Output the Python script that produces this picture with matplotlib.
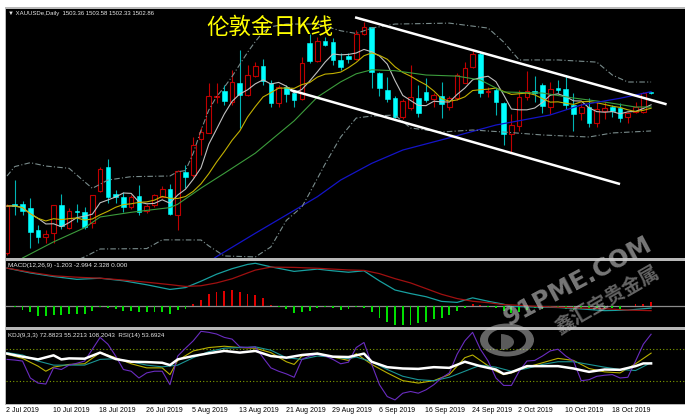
import matplotlib
matplotlib.use("Agg")
import matplotlib.pyplot as plt
from matplotlib.patches import Rectangle, Wedge
from matplotlib.transforms import blended_transform_factory
import numpy as np
import pandas as pd

W, H = 685, 418

# ---------------- data ----------------
dates = pd.bdate_range("2019-07-02", "2019-10-25")

opens = [1383.7, 1420.2, 1420.2, 1417.2, 1400.8, 1395.6, 1398.6, 1419.4, 1402.3, 1415.0,
         1414.2, 1406.0, 1429.8, 1447.7, 1427.6, 1425.4, 1417.9, 1426.1, 1415.0, 1419.4,
         1425.4, 1431.3, 1412.0, 1444.0, 1441.7, 1468.5, 1473.0, 1499.7, 1504.2, 1496.0,
         1510.1, 1501.2, 1515.3, 1522.8, 1510.1, 1495.3, 1507.2, 1502.7, 1498.2, 1539.9,
         1526.5, 1541.4, 1540.6, 1527.3, 1530.2, 1528.0, 1546.6, 1551.8, 1517.6, 1504.9,
         1499.0, 1484.9, 1491.6, 1499.0, 1503.5, 1498.2, 1500.5, 1492.3, 1499.0, 1510.1,
         1522.0, 1531.7, 1503.5, 1504.9, 1495.3, 1472.2, 1478.2, 1499.7, 1504.2, 1508.6,
         1492.3, 1506.4, 1505.7, 1493.8, 1487.8, 1492.3, 1480.4, 1489.3, 1492.3, 1491.6,
         1484.9, 1488.6, 1488.6, 1503.36]
highs = [1420.2, 1438.0, 1422.4, 1424.6, 1404.6, 1400.8, 1419.4, 1427.6, 1417.2, 1420.2,
         1417.9, 1426.9, 1447.7, 1453.6, 1430.6, 1429.1, 1426.9, 1434.3, 1420.2, 1427.6,
         1433.6, 1435.0, 1445.5, 1449.2, 1470.0, 1477.4, 1510.1, 1510.1, 1508.6, 1519.8,
         1534.7, 1523.5, 1525.7, 1528.0, 1512.4, 1508.6, 1508.6, 1504.9, 1529.5, 1546.6,
         1544.3, 1544.3, 1543.6, 1532.5, 1532.5, 1549.5, 1555.5, 1551.8, 1518.3, 1514.6,
         1500.5, 1498.2, 1523.5, 1508.6, 1513.8, 1502.7, 1510.9, 1500.5, 1517.6, 1525.7,
         1534.7, 1533.2, 1507.2, 1506.4, 1496.0, 1487.1, 1504.9, 1519.1, 1515.3, 1510.1,
         1510.9, 1512.4, 1516.1, 1502.7, 1495.3, 1499.0, 1496.0, 1496.0, 1493.8, 1495.3,
         1488.6, 1496.0, 1503.5, 1503.58]
lows = [1382.3, 1412.0, 1412.0, 1387.5, 1391.2, 1391.2, 1391.2, 1401.6, 1401.6, 1406.8,
        1401.6, 1402.3, 1429.1, 1420.9, 1420.9, 1414.2, 1416.5, 1412.0, 1413.5, 1417.9,
        1424.6, 1412.0, 1400.8, 1432.1, 1440.2, 1456.6, 1473.0, 1495.3, 1493.8, 1493.8,
        1476.7, 1500.5, 1514.6, 1508.6, 1492.3, 1492.3, 1496.0, 1492.3, 1497.5, 1525.0,
        1525.7, 1537.6, 1523.5, 1519.8, 1525.0, 1527.3, 1545.8, 1506.4, 1500.5, 1496.0,
        1484.1, 1483.4, 1490.1, 1484.9, 1496.0, 1492.3, 1484.1, 1490.1, 1497.5, 1510.1,
        1521.3, 1499.7, 1499.7, 1486.3, 1464.0, 1458.8, 1474.5, 1497.5, 1496.0, 1487.8,
        1487.1, 1502.7, 1490.8, 1474.5, 1482.6, 1477.4, 1477.4, 1483.4, 1484.9, 1481.1,
        1480.4, 1487.8, 1487.8, 1502.33]
closes = [1418.7, 1418.7, 1415.0, 1399.4, 1395.6, 1397.9, 1419.4, 1403.8, 1415.0, 1414.2,
          1403.1, 1426.9, 1446.2, 1425.4, 1425.4, 1417.9, 1425.4, 1414.2, 1418.7, 1426.9,
          1431.3, 1412.7, 1444.7, 1440.2, 1464.0, 1473.7, 1500.5, 1500.5, 1496.8, 1510.9,
          1501.2, 1516.1, 1522.8, 1511.6, 1495.3, 1507.2, 1502.0, 1497.5, 1525.0, 1526.5,
          1541.4, 1538.4, 1527.3, 1522.0, 1528.0, 1546.6, 1551.8, 1518.3, 1506.4, 1498.2,
          1484.9, 1496.8, 1499.7, 1487.8, 1497.5, 1501.2, 1494.5, 1499.0, 1516.1, 1521.3,
          1531.7, 1502.7, 1504.2, 1496.0, 1472.2, 1478.9, 1499.7, 1504.2, 1502.7, 1493.0,
          1505.7, 1504.9, 1493.8, 1487.1, 1492.3, 1480.4, 1490.8, 1491.6, 1489.3, 1484.1,
          1487.8, 1492.3, 1502.7, 1502.86]

# indicator lines (bar index -> value)
ma20_idx = [2, 6, 10, 12, 16, 21, 22, 25, 28, 32, 37, 40, 43, 45, 47, 50, 54, 58, 61, 64, 69, 73, 77, 81, 83]
ma20_val = [1380, 1392, 1402.5, 1410.5, 1414, 1417.5, 1420, 1432, 1443, 1458, 1482, 1499.7, 1511,
            1517, 1520, 1519.3, 1516.1, 1515.3, 1512.4, 1503.5, 1502.7, 1499, 1496, 1492.3, 1492.3]
ma60_idx = [26, 27, 32, 36, 40, 43, 47, 51, 57, 63, 70, 74, 79, 83]
ma60_val = [1377, 1381, 1398.4, 1412, 1425.6, 1438, 1450.4, 1460.3, 1469.4, 1478.9, 1486.4, 1493.8,
            1498.8, 1503.7]
bb_up_idx = [0, 1, 3, 5, 8, 10, 11, 13, 16, 21, 22, 23, 24, 25, 26, 27, 28, 29, 30, 31, 32, 33, 34,
             36, 40, 43, 45, 47, 50, 57, 62, 64, 66, 71, 76, 78, 80, 83]
bb_up_val = [1441, 1448, 1450.9, 1448.4, 1446.7, 1436.7, 1431.8, 1438, 1440.5, 1441, 1444.2, 1445,
             1458, 1475, 1490, 1500, 1507, 1515, 1524, 1533, 1541, 1548, 1552, 1554, 1554, 1549,
             1547, 1551, 1554, 1554.7, 1551, 1540.6, 1527.3, 1527.3, 1525.7, 1516.1, 1510.9, 1510.9]
bb_lo_idx = [8, 10, 12, 18, 20, 25, 26, 28, 32, 34, 36, 38, 39, 41, 43, 45, 47, 50, 52, 56, 60, 64,
             69, 75, 78, 83]
bb_lo_val = [1376, 1380.8, 1386.7, 1387, 1393.5, 1393.4, 1389, 1381.5, 1380.8, 1388.2, 1408, 1418,
             1428.4, 1450, 1470, 1484.1, 1485.6, 1486.3, 1476.7, 1473.7, 1475.2, 1473.7, 1471.5,
             1470, 1473, 1474.5]

# hand-drawn channel lines: (bar index, price)
chan_upper = [(44.85, 1559.0), (85.0, 1494.3)]
chan_lower = [(36.5, 1505.0), (79.0, 1435.0)]

# MACD (12,26,9)
macd_idx = [0, 3, 6, 9, 12, 15, 18, 21, 23, 25, 27, 29, 31, 32, 34, 37, 40, 42, 44, 46, 48, 50, 52,
            54, 56, 58, 60, 62, 64, 65, 68, 71, 74, 77, 80, 83]
dif_val = [26.9, 23.5, 21.0, 19.0, 19.8, 18.0, 15.2, 11.9, 13.2, 17.7, 22.6, 26.5, 29.5, 30.3, 27.8,
           24.6, 26.2, 25.0, 24.0, 25.0, 17.9, 11.5, 9.0, 6.8, 3.5, 2.8, 6.0, 3.6, 1.5, 0.0, -0.4,
           -0.8, -1.8, -3.0, -2.6, -1.2]
dea_val = [26.9, 24.0, 21.5, 20.5, 19.8, 18.5, 17.0, 15.3, 14.0, 14.5, 16.5, 19.4, 23.5, 25.5, 27.6,
           27.4, 26.8, 26.2, 25.6, 25.3, 23.0, 19.5, 16.5, 12.5, 8.5, 5.5, 3.6, 2.6, 1.2, 1.0, 0.1,
           -0.6, -1.2, -1.6, -2.6, -3.0]
macd_hist = [0, -0.4, -2.4, -4.1, -7.1, -7.1, -5.9, -6.4, -5.5, -5.5, -5.5, -3.6, -0.7, -1.2, -1.6,
             -3.1, -3.1, -4.1, -4.1, -4.1, -4.1, -5.5, -2.4, -1.6, 1.9, 4.8, 8.4, 10.2, 10.7, 11.4,
             9.8, 8.8, 7.9, 5.9, 1.2, -0.3, -1.6, -4.8, -4.1, -3.1, -1.2, -0.4, -1.2, -2.4, -1.8,
             -0.7, -1.2, -4.1, -8.4, -10.7, -13.1, -13.1, -13.1, -11.9, -10.7, -8.8, -8.4, -6.4,
             -3.6, -1.2, 1.9, 0.7, -0.7, -1.2, -3.6, -4.8, -4.1, -2.4, -1.2, -1.6, -0.4, -1.2, -1.6,
             -2.4, -1.6, -2.4, -1.6, -1.6, -1.2, -1.6, 0.4, 1.6, 1.6, 2.9]

# KDJ (9,3,3) and RSI(14)
k_idx = [0, 2, 4, 5, 6, 8, 10, 12, 14, 16, 18, 20, 21, 22, 24, 26, 28, 30, 32, 34, 36, 37, 38, 40,
         42, 44, 45, 47, 49, 51, 53, 55, 57, 59, 60, 61, 63, 64, 65, 67, 69, 71, 73, 75, 77, 79,
         81, 83]
k_val = [70.7, 63.1, 48.6, 39.1, 46.7, 51.8, 53.0, 73.9, 64.4, 53.0, 45.4, 45.4, 32.8, 59.3, 77.0,
         83.3, 85.8, 83.3, 82.1, 73.9, 56.8, 51.8, 67.5, 72.6, 65.6, 59.3, 72.0, 51.8, 36.0, 21.5,
         17.0, 21.5, 32.8, 64.4, 69.4, 59.3, 39.1, 32.8, 36.0, 46.7, 54.9, 63.1, 59.3, 44.2, 37.9,
         36.0, 53.0, 72.9]
d_idx = [0, 2, 4, 6, 8, 10, 12, 14, 16, 18, 20, 22, 24, 26, 28, 30, 32, 34, 36, 38, 40, 42, 44, 45,
         47, 49, 51, 53, 55, 57, 59, 61, 63, 65, 67, 69, 71, 73, 75, 77, 79, 81, 83]
d_val = [73.9, 69.4, 58.1, 50.5, 50.5, 50.5, 61.2, 62.5, 56.8, 50.5, 47.3, 50.5, 64.4, 75.7, 82.1,
         83.3, 84.6, 78.3, 64.4, 61.2, 67.5, 65.6, 62.5, 65.6, 56.8, 42.3, 29.7, 23.3, 21.4, 27.8,
         39.1, 50.5, 46.7, 39.1, 44.2, 51.8, 56.8, 56.8, 51.8, 46.7, 42.3, 40.4, 55.2]
j_val = [61.2, 60.0, 58.1, 26.5, 17.0, 15.2, 45.4, 42.3, 50.5, 54.0, 58.1, 80.2, 102.3, 89.6, 67.5,
         42.3, 39.1, 26.5, 36.0, 39.1, 39.1, 13.9, 67.5, 82.1, 95.9, 113.6, 111.7, 108.6, 102.3,
         99.1, 84.6, 83.3, 84.6, 64.4, 45.4, 39.1, 34.1, 27.8, 61.2, 67.5, 70.7, 67.5, 61.2, 53.0,
         56.0, 83.3, 92.8, 51.8, 13.9, -8.2, -14.5, -1.9, 1.3, -1.9, 4.4, 13.9, 26.5, 36.0, 70.7,
         95.9, 111.7, 80.2, 58.1, 26.5, 12.6, 12.6, 39.1, 58.1, 59.3, 67.5, 77.0, 80.2, 67.5, 58.1,
         21.4, 23.3, 29.6, 31.6, 32.8, 26.5, 27.8, 58.1, 89.6, 108.2]
rsi_idx = [0, 2, 4, 6, 7, 8, 10, 12, 14, 16, 18, 20, 21, 22, 24, 26, 28, 30, 32, 34, 36, 38, 40, 42,
           44, 46, 47, 49, 51, 53, 55, 57, 59, 61, 63, 64, 65, 67, 69, 71, 73, 74, 75, 77, 79, 81,
           82, 83]
rsi_val = [72.0, 66.3, 61.2, 68.8, 61.2, 63.1, 62.5, 73.9, 61.9, 56.8, 56.2, 54.9, 50.5, 61.2, 67.5,
           72.6, 77.0, 73.9, 77.0, 67.5, 64.4, 69.4, 72.0, 66.3, 65.6, 72.0, 56.8, 46.7, 44.2, 43.5,
           46.7, 45.4, 56.8, 48.6, 42.3, 34.1, 37.3, 48.6, 48.6, 48.6, 44.2, 41.0, 37.9, 42.3, 41.7,
           48.6, 53.7, 53.69]
kdj_levels = [80, 20]

tick_idx = [0, 6, 12, 18, 24, 30, 36, 42, 48, 54, 60, 66, 72, 78]
tick_labels = ["2 Jul 2019", "10 Jul 2019", "18 Jul 2019", "26 Jul 2019", "5 Aug 2019",
               "13 Aug 2019", "21 Aug 2019", "29 Aug 2019", "6 Sep 2019", "16 Sep 2019",
               "24 Sep 2019", "2 Oct 2019", "10 Oct 2019", "18 Oct 2019"]

chart_title = "伦敦金日K线"
symbol_label = "\u25bc XAUUSDe,Daily  1503.36 1503.58 1502.33 1502.86"
macd_label = "MACD(12,26,9) -1.203 -2.994 2.328 0.000"
kdj_label = "KDJ(9,3,3) 72.8823 55.2213 108.2043  RSI(14) 53.6924"
wm_latin = "91PME.COM"
wm_cjk = "鑫汇宝贵金属"

# ---------------- figure ----------------
fig = plt.figure(figsize=(W / 100, H / 100), dpi=100, facecolor="white")


def box(x0, y0, x1, y1):
    return [x0 / W, 1 - y1 / H, (x1 - x0) / W, (y1 - y0) / H]


# frame / separators
fig.patches.append(Rectangle((5 / W, 1 - 405 / H), 680 / W, 398 / H, transform=fig.transFigure,
                             facecolor="#b8b8b8", edgecolor="none", zorder=-10))

ax = fig.add_axes(box(6, 9, 685, 258))
axm = fig.add_axes(box(6, 261, 685, 327))
axk = fig.add_axes(box(6, 330, 685, 404))
XL = (-0.13, 87.37)
for a in (ax, axm, axk):
    a.set_facecolor("black")
    a.set_xlim(*XL)
    a.set_xticks([])
    a.set_yticks([])
    for s in a.spines.values():
        s.set_visible(False)
ax.set_ylim(1380.0, 1565.2)
axm.set_ylim(-14.5, 31.9)
axk.set_ylim(-22.1, 116.1)

x = np.arange(len(dates))
o, h, l, c = (np.array(v) for v in (opens, highs, lows, closes))
UP, DN, DNW = "#c00000", "#00ffff", "#00b4b4"
bw = 0.6
for i in x:
    isup = c[i] > o[i]
    ax.plot([i, i], [l[i], h[i]], color=UP if isup else DNW, lw=0.8, zorder=3,
            solid_capstyle="butt")
    bot = min(o[i], c[i])
    ht = max(abs(c[i] - o[i]), 0.5)
    if isup:
        ax.add_patch(Rectangle((i - bw / 2, bot), bw, ht, facecolor="black", edgecolor=UP,
                               lw=0.8, zorder=4))
    else:
        ax.add_patch(Rectangle((i - bw / 2, bot), bw, ht, facecolor=DN, edgecolor=DN,
                               lw=0.4, zorder=4))

cs = pd.Series(closes)
ma5 = cs.rolling(5, min_periods=1).mean()
ma10 = cs.rolling(10, min_periods=1).mean()
ax.plot(x, ma5, color="#c0c0c0", lw=0.8, zorder=5)
ax.plot(x, ma10, color="#c2b000", lw=0.8, zorder=5)
ax.plot(ma20_idx, ma20_val, color="#3c9c3c", lw=0.8, zorder=5)
ax.plot(ma60_idx, ma60_val, color="#1414c8", lw=0.9, zorder=5)
bbstyle = dict(color="#7a8c8c", lw=0.8, ls=(0, (5, 2, 1, 2)), zorder=5)
ax.plot(bb_up_idx, bb_up_val, **bbstyle)
ax.plot(bb_lo_idx, bb_lo_val, **bbstyle)
for seg in (chan_upper, chan_lower):
    ax.plot([seg[0][0], seg[1][0]], [seg[0][1], seg[1][1]], color="white", lw=1.8, zorder=6,
            solid_capstyle="butt")

fig.text(206 / W, 1 - 27.5 / H, chart_title, color="#ffff00", fontsize=16.2,
         family=["Noto Sans CJK SC", "DejaVu Sans"], va="center", ha="left", zorder=10)
fig.text(8 / W, 1 - 14 / H, symbol_label, color="#e8e8e8", fontsize=4.3,
         family=["Liberation Sans", "DejaVu Sans"], va="center", ha="left", zorder=10)

# MACD
axm.axhline(0, color="#8c8c8c", lw=0.9, zorder=1)
hist = np.array(macd_hist)
axm.bar(x, hist, width=0.24, color=np.where(hist >= 0, "#e00000", "#00e000"), zorder=2)
axm.plot(macd_idx, dif_val, color="#18a0a0", lw=0.9, zorder=3)
axm.plot(macd_idx, dea_val, color="#a01010", lw=0.9, zorder=3)
fig.text(8 / W, 1 - 265.5 / H, macd_label, color="#e8e8e8", fontsize=4.6,
         family=["Liberation Sans", "DejaVu Sans"], va="center", ha="left", zorder=10)

# KDJ + RSI
for lv in kdj_levels:
    axk.axhline(lv, color="#80a000", lw=0.8, ls=(0, (1, 2)), zorder=1)
axk.plot(k_idx, k_val, color="#b8b000", lw=0.8, zorder=3)
axk.plot(d_idx, d_val, color="#1a9494", lw=0.8, zorder=3)
axk.plot(x, j_val, color="#6a2cc0", lw=0.8, zorder=3)
axk.plot(rsi_idx, rsi_val, color="white", lw=1.8, zorder=4)
fig.text(8 / W, 1 - 335 / H, kdj_label, color="#e8e8e8", fontsize=4.5,
         family=["Liberation Sans", "DejaVu Sans"], va="center", ha="left", zorder=10)

tr = blended_transform_factory(axk.transData, axk.transAxes)
for ti, tl in zip(tick_idx, tick_labels):
    axk.text(ti - 0.1, -0.085, tl, transform=tr, fontsize=5, color="black", ha="left",
             va="center", family=["Liberation Sans", "DejaVu Sans"], clip_on=False)

# watermark
wm = "#c8c8c8"
fig.patches.append(Wedge((507 / W, 1 - 340 / H), 27 / W, 0, 360, width=8 / W,
                         transform=fig.transFigure, facecolor=wm, alpha=0.5, edgecolor="none",
                         zorder=20))
fig.patches.append(Wedge((501 / W, 1 - 342 / H), 13 / W, -90, 90,
                         transform=fig.transFigure, facecolor=wm, alpha=0.45, edgecolor="none",
                         zorder=20))
fig.text(578 / W, 1 - 281 / H, wm_latin, color=wm, alpha=0.6, fontsize=17.5, rotation=28,
         ha="center", va="center", family=["DejaVu Sans"], weight="bold", zorder=20)
fig.text(607 / W, 1 - 300 / H, wm_cjk, color=wm, alpha=0.5, fontsize=14, rotation=30,
         ha="center", va="center", family=["Noto Sans CJK SC", "DejaVu Sans"], weight="bold",
         zorder=20)

fig.savefig("out.png", dpi=100, facecolor="white")
